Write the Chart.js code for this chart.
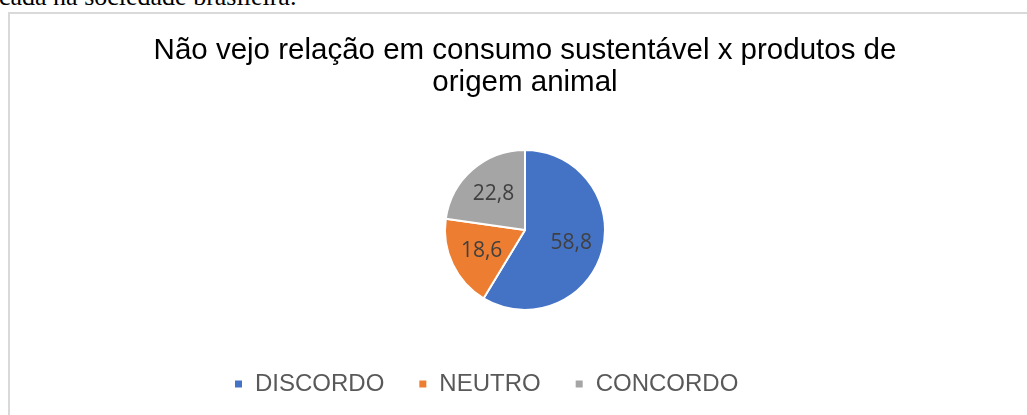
<!DOCTYPE html>
<html>
<head>
<meta charset="utf-8">
<script src="https://cdn.jsdelivr.net/npm/chart.js@4"></script>
<style>
  html, body { margin: 0; padding: 0; background: #fff; overflow: hidden; }
  body { width: 1027px; height: 415px; position: relative; }
  .texto { position: absolute; left: -1px; top: -16px; font: 26px/26px "Liberation Serif", serif; color: #000; white-space: nowrap; }
  .moldura { position: absolute; left: 8px; top: 12px; width: 1040px; height: 420px; border-left: 2px solid #d9d9d9; border-top: 2px solid #d9d9d9; }
  #grafico { position: absolute; left: 0; top: 0; }
</style>
</head>
<body>
<div class="texto">cada na sociedade brasileira.</div>
<div class="moldura"></div>
<canvas id="grafico" width="1027" height="415"></canvas>
<script>
// Dados do gráfico
const titulo = ['Não vejo relação em consumo sustentável x produtos de', 'origem animal'];
const categorias = ['DISCORDO', 'NEUTRO', 'CONCORDO'];
const valores = [58.8, 18.6, 22.8];
const cores = ['#4472C4', '#ED7D31', '#A5A5A5'];

// Rótulos dentro das fatias (formato brasileiro com vírgula)
const rotulosPlugin = {
    id: 'rotulos',
    afterDatasetsDraw(chart) {
        const ctx = chart.ctx;
        const meta = chart.getDatasetMeta(0);
        ctx.save();
        ctx.font = '21px "Open Sans", sans-serif';
        ctx.fillStyle = '#404040';
        ctx.textAlign = 'center';
        ctx.textBaseline = 'middle';
        meta.data.forEach((arc, i) => {
            const p = arc.getProps(['x', 'y', 'startAngle', 'endAngle', 'outerRadius'], true);
            const meio = (p.startAngle + p.endAngle) / 2;
            const r = p.outerRadius * 0.6;
            const texto = valores[i].toFixed(1).replace('.', ',');
            ctx.fillText(texto, p.x + Math.cos(meio) * r, p.y + Math.sin(meio) * r);
        });
        ctx.restore();
    }
};

// A legenda do original fica um pouco à esquerda do centro
const legendaPlugin = {
    id: 'legendaDeslocada',
    afterLayout(chart) {
        chart.legend.left = 200;
        chart.legend.right = 850;
    }
};

new Chart(document.getElementById('grafico'), {
    type: 'pie',
    data: {
        labels: categorias,
        datasets: [{
            data: valores,
            backgroundColor: cores,
            borderColor: '#ffffff',
            borderWidth: 2,
            hoverOffset: 0
        }]
    },
    options: {
        responsive: false,
        animation: false,
        radius: 80,
        layout: { padding: { left: 30, right: 7, top: 0, bottom: 9 } },
        plugins: {
            title: {
                display: true,
                text: titulo,
                color: '#000000',
                font: { family: '"Liberation Sans", Arial, sans-serif', size: 29.5, weight: 'normal', lineHeight: 1.085 },
                padding: { top: 35, bottom: 23 }
            },
            legend: {
                position: 'bottom',
                align: 'start',
                maxHeight: 79,
                labels: {
                    boxWidth: 9,
                    boxHeight: 9,
                    padding: 34,
                    color: '#595959',
                    font: { family: '"Liberation Sans", Arial, sans-serif', size: 24 }
                }
            },
            tooltip: { enabled: false }
        }
    },
    plugins: [rotulosPlugin, legendaPlugin]
});
</script>
</body>
</html>
